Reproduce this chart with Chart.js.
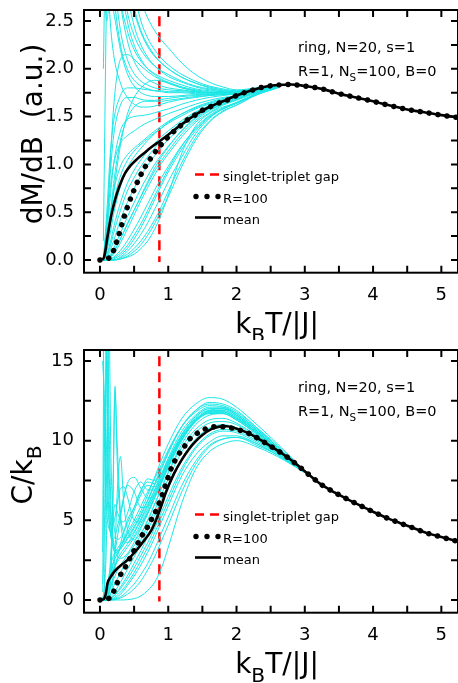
<!DOCTYPE html>
<html lang="en">
<head>
<meta charset="utf-8">
<title>dM/dB and C/kB vs kBT/|J|</title>
<script src="https://cdn.jsdelivr.net/npm/chart.js@4.4.1/dist/chart.umd.min.js"></script>
<style>
  html, body { margin: 0; padding: 0; background: #fff; }
  canvas { position: absolute; left: 0; }
  #chartM { top: 0; }
  #chartC { top: 340px; }
</style>
</head>
<body>
<canvas id="chartM" width="458" height="340"></canvas>
<canvas id="chartC" width="458" height="343"></canvas>
<script>
// ---- shared x axis ----
const xTicks = [0, 1, 2, 3, 4, 5];
const xTickLabels = ['0', '1', '2', '3', '4', '5'];
const xMarks = [0, 0.5, 1, 1.5, 2, 2.5, 3, 3.5, 4, 4.5, 5];
const gapX = 0.87;
const legendLabels = ['singlet-triplet gap', 'R=100', 'mean'];

// ---- top panel: dM/dB ----
const mTicks = [0, 0.5, 1, 1.5, 2, 2.5];
const mTickLabels = ['0.0', '0.5', '1.0', '1.5', '2.0', '2.5'];
const mMarks = [0, 0.25, 0.5, 0.75, 1, 1.25, 1.5, 1.75, 2, 2.25, 2.5];
const gapYM = [2.55, -0.02];

const meanMX = [0.03, 0.06, 0.08, 0.1, 0.13, 0.17, 0.21, 0.25, 0.3, 0.37, 0.45, 0.55, 0.65, 0.75, 0.87, 1.0, 1.2, 1.4, 1.6, 1.8, 2.0, 2.2, 2.4, 2.6, 2.8, 3.0, 3.25, 3.5, 3.75, 4.0, 4.25, 4.5, 4.75, 5.0, 5.25];
const meanMY = [0, 0.03, 0.1, 0.2, 0.33, 0.48, 0.6, 0.7, 0.8, 0.91, 0.99, 1.06, 1.12, 1.18, 1.24, 1.31, 1.42, 1.52, 1.6, 1.66, 1.72, 1.77, 1.81, 1.83, 1.835, 1.82, 1.79, 1.74, 1.7, 1.66, 1.615, 1.575, 1.545, 1.515, 1.49];

const r100MX = [0, 0.13, 0.2, 0.24, 0.28, 0.34, 0.4, 0.48, 0.57, 0.65, 0.73, 0.81, 0.9, 0.99, 1.09, 1.19, 1.29, 1.4, 1.51, 1.64, 1.77, 1.89, 2.0, 2.2, 2.4, 2.6, 2.8, 3.0, 3.25, 3.5, 3.75, 4.0, 4.25, 4.5, 4.75, 5.0, 5.25];
const r100MY = [0, 0.02, 0.1, 0.18, 0.27, 0.42, 0.55, 0.7, 0.85, 0.96, 1.05, 1.13, 1.21, 1.28, 1.35, 1.41, 1.47, 1.52, 1.57, 1.61, 1.65, 1.68, 1.72, 1.77, 1.81, 1.83, 1.835, 1.82, 1.79, 1.74, 1.7, 1.66, 1.615, 1.575, 1.545, 1.515, 1.49];

// single realisations (R=1), read on this grid
const gridMX = [0.05, 0.1, 0.15, 0.2, 0.3, 0.4, 0.5, 0.6, 0.7, 0.8, 0.9, 1.0, 1.2, 1.4, 1.6, 1.8, 2.0, 2.3, 2.6];
const upM1 = [12, 9, 7, 5.8, 4.3, 3.5, 3.0, 2.72, 2.53, 2.4, 2.3, 2.22, 2.06, 1.94, 1.86, 1.81, 1.78, 1.8, 1.83];
const upM2 = [10, 7.5, 5.5, 4.5, 3.4, 2.8, 2.45, 2.25, 2.12, 2.03, 1.97, 1.92, 1.86, 1.81, 1.78, 1.76, 1.76, 1.79, 1.83];
const upM3 = [8, 5.5, 4.2, 3.5, 2.7, 2.3, 2.08, 1.96, 1.89, 1.85, 1.82, 1.8, 1.78, 1.76, 1.75, 1.75, 1.75, 1.79, 1.83];
const upM4 = [6, 4.2, 3.3, 2.8, 2.25, 2.0, 1.88, 1.82, 1.79, 1.77, 1.76, 1.75, 1.75, 1.74, 1.74, 1.74, 1.75, 1.79, 1.83];
const upM5 = [4, 6, 4.5, 3.6, 2.75, 2.4, 2.2, 2.08, 2.0, 1.95, 1.91, 1.88, 1.83, 1.79, 1.77, 1.76, 1.76, 1.79, 1.83];
const upM6 = [0.2, 3, 5, 4.2, 3.1, 2.6, 2.35, 2.2, 2.1, 2.03, 1.98, 1.94, 1.87, 1.82, 1.79, 1.77, 1.76, 1.79, 1.83];
const upM7 = [0, 0.4, 0.9, 1.3, 1.62, 1.7, 1.7, 1.68, 1.67, 1.67, 1.68, 1.69, 1.71, 1.72, 1.73, 1.74, 1.75, 1.79, 1.83];
const upM8 = [0, 0.1, 0.35, 0.7, 1.2, 1.52, 1.7, 1.8, 1.86, 1.88, 1.87, 1.85, 1.8, 1.77, 1.75, 1.75, 1.75, 1.79, 1.83];
const upM9 = [0, 0.25, 0.65, 1.0, 1.35, 1.47, 1.5, 1.51, 1.52, 1.54, 1.56, 1.58, 1.63, 1.67, 1.7, 1.72, 1.74, 1.79, 1.83];
const upM10 = [5, 3.2, 2.5, 2.15, 1.85, 1.7, 1.63, 1.6, 1.6, 1.61, 1.63, 1.65, 1.68, 1.7, 1.72, 1.73, 1.74, 1.79, 1.83];
const upM11 = [3, 2.5, 2.8, 2.6, 2.2, 1.95, 1.82, 1.75, 1.72, 1.71, 1.71, 1.71, 1.72, 1.73, 1.73, 1.74, 1.75, 1.79, 1.83];
const upM12 = [0, 0.3, 1.0, 1.6, 2.1, 2.15, 2.1, 2.03, 1.97, 1.92, 1.88, 1.85, 1.8, 1.77, 1.75, 1.75, 1.75, 1.79, 1.83];
const upM13 = [9, 6.5, 4.8, 3.9, 2.95, 2.5, 2.25, 2.1, 2.0, 1.94, 1.89, 1.86, 1.81, 1.78, 1.76, 1.75, 1.75, 1.79, 1.83];
const upM14 = [7, 8, 6, 4.8, 3.6, 2.95, 2.6, 2.38, 2.23, 2.13, 2.06, 2.0, 1.91, 1.85, 1.8, 1.77, 1.76, 1.79, 1.83];
const upM15 = [11, 8, 6.5, 5.2, 3.9, 3.2, 2.8, 2.5, 2.32, 2.2, 2.11, 2.04, 1.94, 1.87, 1.82, 1.79, 1.77, 1.8, 1.83];
const upM16 = [2, 4, 3.5, 3.0, 2.4, 2.1, 1.95, 1.87, 1.83, 1.8, 1.79, 1.78, 1.77, 1.76, 1.75, 1.75, 1.75, 1.79, 1.83];
const upM17 = [0, 0.15, 0.45, 0.8, 1.25, 1.48, 1.6, 1.65, 1.66, 1.66, 1.66, 1.67, 1.69, 1.71, 1.72, 1.73, 1.74, 1.79, 1.83];
const upM18 = [0, 0.5, 1.1, 1.45, 1.72, 1.8, 1.8, 1.79, 1.78, 1.77, 1.77, 1.76, 1.76, 1.75, 1.75, 1.75, 1.75, 1.79, 1.83];
const upM19 = [6, 9, 7, 5.5, 3.9, 3.1, 2.65, 2.4, 2.25, 2.14, 2.06, 2.0, 1.91, 1.85, 1.81, 1.78, 1.77, 1.8, 1.83];
const loM1 = [0, 0.2, 0.48, 0.72, 0.98, 1.1, 1.17, 1.23, 1.29, 1.35, 1.4, 1.45, 1.53, 1.59, 1.64, 1.68, 1.71, 1.78, 1.83];
const loM2 = [0, 0.06, 0.18, 0.34, 0.6, 0.8, 0.94, 1.05, 1.14, 1.22, 1.29, 1.35, 1.46, 1.55, 1.61, 1.66, 1.7, 1.77, 1.82];
const loM3 = [0, 0.01, 0.05, 0.12, 0.28, 0.45, 0.6, 0.75, 0.88, 1.0, 1.1, 1.19, 1.35, 1.48, 1.57, 1.63, 1.68, 1.76, 1.82];
const loM4 = [0, 0, 0.01, 0.03, 0.1, 0.2, 0.32, 0.45, 0.59, 0.73, 0.86, 0.98, 1.2, 1.37, 1.5, 1.58, 1.64, 1.74, 1.81];
const loM5 = [0, 0, 0, 0, 0.01, 0.03, 0.06, 0.12, 0.2, 0.32, 0.48, 0.68, 1.12, 1.4, 1.53, 1.6, 1.64, 1.73, 1.8];
const loM6 = [0, 0, 0.02, 0.06, 0.18, 0.32, 0.47, 0.62, 0.76, 0.89, 1.01, 1.11, 1.29, 1.44, 1.54, 1.62, 1.67, 1.75, 1.82];
const loM7 = [0, 0.1, 0.28, 0.48, 0.77, 0.96, 1.08, 1.17, 1.25, 1.32, 1.38, 1.44, 1.53, 1.6, 1.65, 1.69, 1.72, 1.78, 1.83];
const loM8 = [0, 0, 0, 0.01, 0.05, 0.12, 0.22, 0.34, 0.48, 0.63, 0.78, 0.92, 1.16, 1.35, 1.49, 1.58, 1.64, 1.74, 1.81];
const loM9 = [0, 0.02, 0.1, 0.2, 0.42, 0.6, 0.75, 0.88, 0.99, 1.09, 1.18, 1.26, 1.4, 1.51, 1.59, 1.65, 1.69, 1.77, 1.82];
const loM10 = [0, 0, 0, 0, 0.02, 0.06, 0.12, 0.2, 0.3, 0.42, 0.56, 0.72, 1.02, 1.28, 1.45, 1.56, 1.62, 1.73, 1.8];
const loM11 = [0, 0.35, 0.75, 1.0, 1.22, 1.3, 1.35, 1.4, 1.44, 1.47, 1.5, 1.53, 1.58, 1.63, 1.67, 1.7, 1.72, 1.78, 1.83];
const loM12 = [0, 0.01, 0.04, 0.09, 0.22, 0.38, 0.52, 0.66, 0.8, 0.93, 1.04, 1.14, 1.32, 1.46, 1.56, 1.63, 1.68, 1.76, 1.82];
const loM13 = [0, 0, 0, 0.02, 0.07, 0.15, 0.26, 0.38, 0.52, 0.67, 0.81, 0.95, 1.19, 1.38, 1.51, 1.59, 1.65, 1.74, 1.81];
const loM14 = [0, 0, 0, 0, 0.03, 0.09, 0.17, 0.27, 0.39, 0.53, 0.67, 0.82, 1.08, 1.32, 1.48, 1.58, 1.64, 1.74, 1.81];
const loM15 = [0, 0.04, 0.14, 0.28, 0.52, 0.72, 0.86, 0.98, 1.08, 1.17, 1.25, 1.32, 1.44, 1.54, 1.61, 1.66, 1.7, 1.77, 1.82];
const loM16 = [0, 0, 0.03, 0.08, 0.22, 0.37, 0.52, 0.67, 0.82, 0.96, 1.08, 1.18, 1.36, 1.49, 1.58, 1.64, 1.68, 1.76, 1.82];
const loM17 = [0, 0, 0, 0, 0.01, 0.04, 0.09, 0.16, 0.26, 0.38, 0.52, 0.66, 0.98, 1.25, 1.44, 1.55, 1.62, 1.73, 1.8];
const loM18 = [0, 0.15, 0.38, 0.6, 0.88, 1.04, 1.14, 1.21, 1.27, 1.33, 1.38, 1.43, 1.51, 1.58, 1.63, 1.67, 1.71, 1.78, 1.83];

// ---- bottom panel: C/kB ----
const cTicks = [0, 5, 10, 15];
const cTickLabels = ['0', '5', '10', '15'];
const cMarks = [0, 2.5, 5, 7.5, 10, 12.5, 15];
const gapYC = [15.3, -0.1];

const meanCX = [0.03, 0.07, 0.09, 0.11, 0.15, 0.21, 0.3, 0.4, 0.55, 0.65, 0.75, 0.82, 0.89, 0.97, 1.08, 1.19, 1.3, 1.4, 1.5, 1.63, 1.75, 1.85, 1.97, 2.18, 2.35, 2.52, 2.7, 2.86, 3.05, 3.25, 3.45, 3.6, 3.8, 4.0, 4.2, 4.4, 4.6, 4.8, 5.0, 5.25];
const meanCY = [0, 0.15, 0.5, 1.05, 1.4, 1.78, 2.15, 2.5, 3.2, 3.75, 4.35, 5.0, 5.8, 6.8, 7.9, 8.75, 9.45, 9.95, 10.35, 10.72, 10.88, 10.9, 10.8, 10.46, 10.05, 9.6, 9.1, 8.58, 7.9, 7.22, 6.72, 6.38, 5.95, 5.54, 5.15, 4.82, 4.5, 4.18, 3.95, 3.66];

const r100CX = [0, 0.13, 0.2, 0.25, 0.3, 0.37, 0.43, 0.49, 0.55, 0.62, 0.7, 0.77, 0.83, 0.88, 0.93, 0.97, 1.05, 1.15, 1.24, 1.32, 1.43, 1.54, 1.67, 1.8, 1.92, 2.18, 2.35, 2.52, 2.7, 2.86, 3.05, 3.25, 3.45, 3.6, 3.8, 4.0, 4.2, 4.4, 4.6, 4.8, 5.0, 5.25];
const r100CY = [0, 0.1, 0.52, 1.05, 1.57, 2.05, 2.55, 3.03, 3.52, 4.08, 4.6, 5.19, 5.69, 6.23, 6.8, 7.33, 8.33, 9.12, 9.65, 10.13, 10.48, 10.73, 10.88, 10.88, 10.8, 10.46, 10.05, 9.6, 9.1, 8.58, 7.9, 7.22, 6.72, 6.38, 5.95, 5.54, 5.15, 4.82, 4.5, 4.18, 3.95, 3.66];

const gridCX = [0.04, 0.07, 0.1, 0.13, 0.16, 0.19, 0.22, 0.25, 0.3, 0.35, 0.4, 0.5, 0.6, 0.7, 0.8, 0.9, 1.0, 1.2, 1.4, 1.6, 1.8, 2.0, 2.3, 2.6, 3.0];
const loC1 = [0, 0, 0, 0, 0, 0, 0, 0, 0, 0, 0.02, 0.08, 0.25, 0.6, 1.1, 2.0, 3.3, 6.1, 8.2, 9.3, 9.8, 10.0, 9.6, 9.0, 8.0];
const loC2 = [0, 0, 0, 0, 0.02, 0.05, 0.1, 0.18, 0.35, 0.6, 0.9, 1.5, 2.2, 3.0, 3.9, 4.9, 5.9, 7.8, 9.1, 9.9, 10.3, 10.3, 9.8, 9.1, 8.0];
const loC3 = [0, 0, 0.02, 0.08, 0.2, 0.35, 0.55, 0.75, 1.1, 1.5, 1.9, 2.7, 3.5, 4.4, 5.3, 6.3, 7.2, 8.9, 10.1, 10.8, 11.0, 10.8, 10.1, 9.3, 8.0];
const loC4 = [0, 0.05, 0.2, 0.5, 0.85, 1.2, 1.5, 1.8, 2.2, 2.5, 2.8, 3.4, 4.1, 5.0, 6.0, 7.0, 8.0, 9.6, 10.7, 11.3, 11.4, 11.1, 10.3, 9.4, 8.0];
const loC5 = [0, 0, 0, 0.03, 0.1, 0.2, 0.3, 0.45, 0.7, 1.0, 1.3, 2.0, 2.8, 3.6, 4.5, 5.5, 6.5, 8.3, 9.6, 10.4, 10.7, 10.6, 10.0, 9.2, 8.0];
const loC6 = [0, 0, 0, 0, 0, 0.02, 0.05, 0.1, 0.2, 0.35, 0.55, 1.0, 1.6, 2.3, 3.2, 4.2, 5.2, 7.2, 8.7, 9.7, 10.1, 10.2, 9.7, 9.1, 8.0];
const loC7 = [0, 0.2, 0.8, 1.5, 2.2, 2.7, 3.0, 3.2, 3.5, 3.8, 4.1, 4.8, 5.6, 6.6, 7.7, 8.8, 9.8, 11.4, 12.3, 12.7, 12.6, 12.1, 11.0, 9.8, 8.1];
const loC8 = [0, 0.1, 0.5, 1.0, 1.5, 1.9, 2.2, 2.5, 2.9, 3.2, 3.5, 4.2, 5.0, 5.9, 6.9, 7.9, 8.9, 10.6, 11.6, 12.1, 12.1, 11.7, 10.7, 9.6, 8.0];
const loC9 = [0, 0, 0.05, 0.2, 0.45, 0.75, 1.05, 1.3, 1.7, 2.1, 2.45, 3.1, 3.8, 4.7, 5.6, 6.6, 7.6, 9.3, 10.5, 11.1, 11.2, 11.0, 10.2, 9.3, 8.0];
const loC10 = [0, 0, 0.01, 0.05, 0.12, 0.22, 0.35, 0.5, 0.8, 1.15, 1.5, 2.3, 3.1, 4.0, 5.0, 6.0, 7.0, 8.8, 10.0, 10.7, 10.9, 10.8, 10.1, 9.2, 8.0];
const loC11 = [0, 0, 0, 0, 0, 0, 0.02, 0.05, 0.12, 0.22, 0.35, 0.7, 1.2, 1.9, 2.7, 3.7, 4.7, 6.8, 8.5, 9.6, 10.1, 10.2, 9.8, 9.1, 8.0];
const loC12 = [0, 0.1, 0.4, 0.9, 1.4, 1.8, 2.1, 2.35, 2.7, 3.0, 3.3, 3.9, 4.6, 5.5, 6.5, 7.5, 8.5, 10.2, 11.3, 11.8, 11.9, 11.5, 10.6, 9.5, 8.0];
const loC13 = [0, 0, 0, 0.01, 0.05, 0.1, 0.18, 0.28, 0.5, 0.75, 1.05, 1.7, 2.5, 3.3, 4.2, 5.2, 6.2, 8.1, 9.5, 10.3, 10.6, 10.5, 9.9, 9.2, 8.0];
const loC14 = [0, 0.15, 0.6, 1.2, 1.8, 2.3, 2.6, 2.85, 3.2, 3.5, 3.8, 4.5, 5.3, 6.2, 7.2, 8.2, 9.2, 10.9, 11.9, 12.4, 12.3, 11.9, 10.8, 9.6, 8.1];
const spC1 = [3, 25, 14, 7, 4.5, 3.6, 3.2, 3.1, 3.2, 3.5, 3.9, 4.6, 5.4, 6.3, 7.3, 8.3, 9.3, 10.9, 11.9, 12.3, 12.2, 11.8, 10.8, 9.7, 8.1];
const spC2 = [0.5, 6, 22, 12, 6, 4, 3.2, 2.8, 2.6, 2.7, 2.9, 3.6, 4.5, 5.4, 6.4, 7.4, 8.5, 10.2, 11.3, 11.9, 12.0, 11.6, 10.6, 9.5, 8.0];
const spC3 = [0, 0, 0.1, 0.5, 2.0, 7.0, 13.4, 9.0, 5.0, 3.8, 3.6, 4.0, 4.8, 5.7, 6.7, 7.7, 8.7, 10.4, 11.5, 12.0, 12.0, 11.6, 10.6, 9.5, 8.0];
const spC4 = [0, 0, 0, 0.1, 0.4, 1.2, 3.0, 6.5, 9.0, 6.0, 4.5, 3.8, 4.2, 5.0, 6.0, 7.0, 8.0, 9.8, 11.0, 11.6, 11.7, 11.3, 10.4, 9.4, 8.0];
const spC5 = [0, 0.1, 0.4, 0.9, 1.5, 2.2, 3.0, 3.8, 5.2, 6.4, 7.3, 7.7, 7.0, 6.4, 6.6, 7.4, 8.4, 10.1, 11.2, 11.7, 11.7, 11.3, 10.4, 9.4, 8.0];
const spC6 = [0, 0, 0.1, 0.4, 0.9, 1.4, 2.0, 2.6, 3.5, 4.3, 5.0, 5.8, 6.8, 7.6, 7.5, 7.9, 8.7, 10.3, 11.4, 11.9, 11.9, 11.5, 10.5, 9.5, 8.0];
const spC7 = [20, 9, 5.5, 4.5, 4.3, 4.6, 5.2, 6.0, 7.0, 7.1, 6.5, 5.0, 4.9, 5.5, 6.4, 7.3, 8.3, 10.0, 11.2, 11.8, 11.8, 11.4, 10.5, 9.5, 8.0];
const spC8 = [0, 2, 16, 9, 5, 3.5, 3.0, 3.0, 3.3, 3.7, 4.2, 5.0, 5.9, 6.8, 7.6, 8.5, 9.4, 10.9, 11.8, 12.2, 12.1, 11.7, 10.7, 9.6, 8.0];
const spC9 = [0, 0, 0.05, 0.3, 1.5, 6.0, 13.1, 10.0, 5.5, 4.2, 3.9, 4.3, 5.1, 6.0, 6.9, 7.9, 8.8, 10.4, 11.5, 12.0, 12.0, 11.6, 10.6, 9.5, 8.0];
const spC10 = [15, 12, 7, 5, 4, 3.8, 4.0, 4.5, 5.5, 6.5, 7.2, 6.8, 5.8, 5.9, 6.6, 7.5, 8.4, 10.1, 11.2, 11.8, 11.8, 11.4, 10.5, 9.5, 8.0];
const spC11 = [0, 1, 5, 18, 9, 5.5, 4.2, 3.8, 3.9, 4.3, 4.8, 5.8, 6.9, 7.4, 7.3, 7.8, 8.6, 10.2, 11.3, 11.8, 11.8, 11.4, 10.5, 9.5, 8.0];
const spC12 = [0, 0, 0.2, 1, 3, 5, 6, 5.6, 5.0, 4.9, 5.4, 6.8, 7.4, 6.9, 6.9, 7.6, 8.5, 10.1, 11.2, 11.7, 11.7, 11.3, 10.4, 9.4, 8.0];
const spC13 = [1, 12, 9, 5.5, 4.0, 3.3, 3.0, 3.0, 3.3, 3.8, 4.4, 5.6, 6.6, 7.2, 7.1, 7.6, 8.5, 10.2, 11.3, 11.8, 11.8, 11.4, 10.5, 9.5, 8.0];

const FONT = '"DejaVu Sans", sans-serif';
const cyanColor = '#1ce6e6';

function pts(xs, ys) {
  return xs.map((x, i) => ({ x: x, y: ys[i] }));
}

// text with optional subscript pieces: [[text, isSub], ...]
function drawRich(ctx, parts, x, y, size, align) {
  const subSize = size * 0.72;
  let w = 0;
  parts.forEach(([t, sub]) => {
    ctx.font = `${sub ? subSize : size}px ${FONT}`;
    w += ctx.measureText(t).width;
  });
  let cx = align === 'center' ? x - w / 2 : x;
  parts.forEach(([t, sub]) => {
    ctx.font = `${sub ? subSize : size}px ${FONT}`;
    ctx.fillText(t, cx, sub ? y + size * 0.33 : y);
    cx += ctx.measureText(t).width;
  });
}

// frame + inward ticks on all four sides
const framePlugin = {
  id: 'frame',
  afterDatasetsDraw(chart, args, opts) {
    const { ctx, chartArea: a, scales } = chart;
    const len = 7;
    ctx.save();
    ctx.strokeStyle = '#000';
    ctx.lineWidth = 2;
    ctx.beginPath();
    xMarks.forEach(v => {
      const px = scales.x.getPixelForValue(v);
      ctx.moveTo(px, a.bottom); ctx.lineTo(px, a.bottom - len);
      ctx.moveTo(px, a.top); ctx.lineTo(px, a.top + len);
    });
    opts.yMarks.forEach(v => {
      const py = scales.y.getPixelForValue(v);
      ctx.moveTo(a.left, py); ctx.lineTo(a.left + len, py);
      ctx.moveTo(a.right, py); ctx.lineTo(a.right - len, py);
    });
    ctx.stroke();
    ctx.strokeRect(a.left, a.top, a.right - a.left, a.bottom - a.top);
    ctx.restore();
  }
};

// axis titles, note and legend
const textPlugin = {
  id: 'panelText',
  afterDraw(chart, args, o) {
    const ctx = chart.ctx;
    ctx.save();
    ctx.fillStyle = '#000';
    ctx.textBaseline = 'alphabetic';

    ctx.save();
    ctx.translate(o.yTitleX, o.yTitleY);
    ctx.rotate(-Math.PI / 2);
    drawRich(ctx, o.yTitle, 0, 0, 28, 'center');
    ctx.restore();

    drawRich(ctx, [['k', 0], ['B', 1], ['T/|J|', 0]], 277, 333, 28, 'center');

    drawRich(ctx, [['ring, N=20, s=1', 0]], 298, 51.5, 14.5, 'left');
    drawRich(ctx, [['R=1, N', 0], ['S', 1], ['=100, B=0', 0]], 298, 76, 14.5, 'left');

    // legend samples
    ctx.strokeStyle = 'red';
    ctx.lineWidth = 2.5;
    ctx.setLineDash([9, 6]);
    ctx.beginPath(); ctx.moveTo(195, 174.5); ctx.lineTo(220, 174.5); ctx.stroke();
    ctx.setLineDash([]);
    [196, 207, 218].forEach(px => {
      ctx.beginPath(); ctx.arc(px, 196.5, 2.7, 0, Math.PI * 2); ctx.fill();
    });
    ctx.strokeStyle = '#000';
    ctx.lineWidth = 2.6;
    ctx.beginPath(); ctx.moveTo(195, 217.5); ctx.lineTo(221, 217.5); ctx.stroke();

    ctx.font = `13px ${FONT}`;
    ctx.fillText(legendLabels[0], 223, 181);
    ctx.fillText(legendLabels[1], 223, 203);
    ctx.fillText(legendLabels[2], 223, 224);
    ctx.restore();
  }
};

function buildDatasets(gridX, curves, meanX, meanY, rX, rY, gapY) {
  const ds = [];
  ds.push({
    data: [{ x: gapX, y: gapY[0] }, { x: gapX, y: gapY[1] }],
    borderColor: 'red', borderWidth: 2.5, borderDash: [10, 6], order: 3
  });
  curves.forEach(c => ds.push({
    data: pts(gridX, c), borderColor: cyanColor, borderWidth: 1,
    cubicInterpolationMode: 'monotone', order: 2
  }));
  ds.push({
    data: pts(meanX, meanY), borderColor: '#000', borderWidth: 2.6,
    cubicInterpolationMode: 'monotone', order: 1
  });
  ds.push({
    data: pts(rX, rY), borderColor: '#000', borderWidth: 5.5,
    borderDash: [0.01, 9], borderCapStyle: 'round',
    cubicInterpolationMode: 'monotone', order: 0
  });
  return ds;
}

function makeChart(id, cfg) {
  const canvas = document.getElementById(id);
  const H = canvas.height;
  return new Chart(canvas.getContext('2d'), {
    type: 'line',
    data: { datasets: cfg.datasets },
    plugins: [framePlugin, textPlugin],
    options: {
      responsive: false,
      animation: false,
      layout: { padding: { top: 10, right: 0, left: 0, bottom: 0 } },
      elements: { point: { radius: 0 }, line: { fill: false } },
      plugins: {
        legend: { display: false },
        tooltip: { enabled: false },
        frame: { yMarks: cfg.yMarks },
        panelText: { yTitle: cfg.yTitle, yTitleX: cfg.yTitleX, yTitleY: cfg.yTitleY }
      },
      scales: {
        x: {
          type: 'linear', min: -0.234, max: 5.244,
          grid: { display: false, drawTicks: false },
          border: { display: false },
          afterBuildTicks: s => { s.ticks = xTicks.map(v => ({ value: v })); },
          afterFit: s => { s.height = H - 272.7; s.paddingLeft = 0; s.paddingRight = 0; },
          ticks: {
            color: '#000', font: { family: FONT, size: 18 }, padding: 12,
            maxRotation: 0, callback: (v, i) => xTickLabels[i]
          }
        },
        y: {
          type: 'linear', min: cfg.yMin, max: cfg.yMax,
          grid: { display: false, drawTicks: false },
          border: { display: false },
          afterBuildTicks: s => { s.ticks = cfg.yTicks.map(v => ({ value: v })); },
          afterFit: s => { s.width = 84; s.paddingTop = 0; s.paddingBottom = 0; },
          ticks: {
            color: '#000', font: { family: FONT, size: 18 }, padding: 10,
            callback: (v, i) => cfg.yLabels[i]
          }
        }
      }
    }
  });
}

document.addEventListener('DOMContentLoaded', () => {
  makeChart('chartM', {
    yMin: -0.133, yMax: 2.615,
    yTicks: mTicks, yLabels: mTickLabels, yMarks: mMarks,
    yTitle: [['dM/dB  (a.u.)', 0]], yTitleX: 42, yTitleY: 134,
    datasets: buildDatasets(gridMX,
      [upM1, upM2, upM3, upM4, upM5, upM6, upM7, upM8, upM9, upM10,
       upM11, upM12, upM13, upM14, upM15, upM16, upM17, upM18, upM19,
       loM1, loM2, loM3, loM4, loM5, loM6, loM7, loM8, loM9,
       loM10, loM11, loM12, loM13, loM14, loM15, loM16, loM17, loM18],
      meanMX, meanMY, r100MX, r100MY, gapYM)
  });

  makeChart('chartC', {
    yMin: -0.8, yMax: 15.69,
    yTicks: cTicks, yLabels: cTickLabels, yMarks: cMarks,
    yTitle: [['C/k', 0], ['B', 1]], yTitleX: 32, yTitleY: 135,
    datasets: buildDatasets(gridCX,
      [loC1, loC2, loC3, loC4, loC5, loC6, loC7, loC8, loC9, loC10, loC11, loC12, loC13, loC14,
       spC1, spC2, spC3, spC4, spC5, spC6, spC7, spC8, spC9, spC10, spC11, spC12, spC13],
      meanCX, meanCY, r100CX, r100CY, gapYC)
  });
});
</script>
</body>
</html>
